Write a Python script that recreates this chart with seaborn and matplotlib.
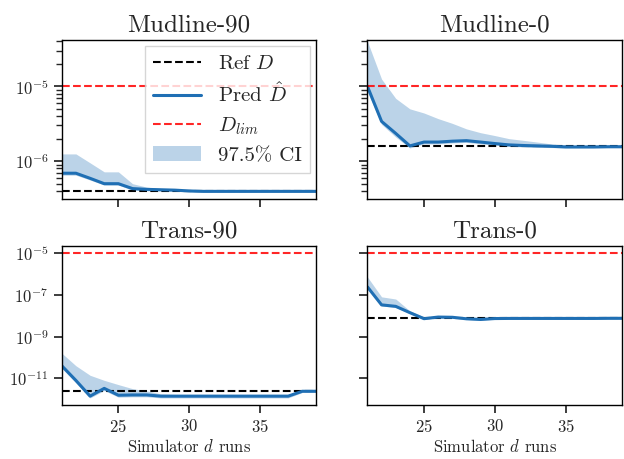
#!/usr/bin/env python3
"""Posterior estimates of D vs number of simulator runs, four test cases."""

import matplotlib.pyplot as plt
import numpy as np
import seaborn as sns

runs = np.arange(21, 40)
panel_names = ["Mudline-90", "Mudline-0", "Trans-90", "Trans-0"]

d_lim = 1e-5

# Mudline-90
mud90_ref = 4.0e-7
mud90_pred = [6.9e-7, 6.9e-7, 5.9e-7, 5.0e-7, 5.0e-7, 4.3e-7, 4.2e-7, 4.15e-7, 4.1e-7, 4.0e-7,
              3.95e-7, 3.95e-7, 3.95e-7, 3.95e-7, 3.95e-7, 3.95e-7, 3.95e-7, 3.95e-7, 3.95e-7]
mud90_hi = [1.25e-6, 1.25e-6, 9.5e-7, 7.2e-7, 7.2e-7, 5.0e-7, 4.5e-7, 4.3e-7, 4.2e-7, 4.1e-7,
            4.05e-7, 4.05e-7, 4.05e-7, 4.05e-7, 4.05e-7, 4.05e-7, 4.05e-7, 4.05e-7, 4.05e-7]
mud90_lo = [6.5e-7, 6.5e-7, 5.6e-7, 4.8e-7, 4.8e-7, 4.1e-7, 4.0e-7, 4.0e-7, 3.95e-7, 3.9e-7,
            3.85e-7, 3.85e-7, 3.85e-7, 3.85e-7, 3.85e-7, 3.85e-7, 3.85e-7, 3.85e-7, 3.85e-7]

# Mudline-0
mud0_ref = 1.6e-6
mud0_pred = [1.0e-5, 3.4e-6, 2.35e-6, 1.6e-6, 1.8e-6, 1.8e-6, 1.85e-6, 1.88e-6, 1.8e-6, 1.72e-6,
             1.65e-6, 1.62e-6, 1.6e-6, 1.58e-6, 1.55e-6, 1.55e-6, 1.55e-6, 1.56e-6, 1.56e-6]
mud0_hi = [4.0e-5, 1.25e-5, 6.9e-6, 5.0e-6, 4.4e-6, 3.7e-6, 3.2e-6, 2.7e-6, 2.4e-6, 2.2e-6,
           2.0e-6, 1.9e-6, 1.8e-6, 1.7e-6, 1.65e-6, 1.6e-6, 1.6e-6, 1.6e-6, 1.6e-6]
mud0_lo = [8.5e-6, 3.1e-6, 2.1e-6, 1.5e-6, 1.7e-6, 1.7e-6, 1.75e-6, 1.78e-6, 1.7e-6, 1.64e-6,
           1.58e-6, 1.55e-6, 1.53e-6, 1.52e-6, 1.5e-6, 1.5e-6, 1.5e-6, 1.51e-6, 1.51e-6]

# Trans-90
tr90_ref = 2.4e-12
tr90_pred = [4.0e-11, 7.9e-12, 1.4e-12, 3.3e-12, 1.55e-12, 1.6e-12, 1.6e-12, 1.4e-12, 1.4e-12, 1.4e-12,
             1.4e-12, 1.4e-12, 1.4e-12, 1.4e-12, 1.4e-12, 1.4e-12, 1.4e-12, 2.4e-12, 2.4e-12]
tr90_hi = [1.6e-10, 4.0e-11, 1.4e-11, 8.0e-12, 5.0e-12, 3.2e-12, 2.5e-12, 1.8e-12, 1.7e-12, 1.7e-12,
           1.7e-12, 1.7e-12, 1.7e-12, 1.7e-12, 1.7e-12, 1.7e-12, 1.7e-12, 2.8e-12, 2.8e-12]
tr90_lo = [3.0e-11, 6.0e-12, 1.15e-12, 2.6e-12, 1.25e-12, 1.3e-12, 1.3e-12, 1.15e-12, 1.15e-12, 1.15e-12,
           1.15e-12, 1.15e-12, 1.15e-12, 1.15e-12, 1.15e-12, 1.15e-12, 1.15e-12, 2.1e-12, 2.1e-12]

# Trans-0
tr0_ref = 7.5e-9
tr0_pred = [2.4e-7, 3.3e-8, 2.8e-8, 1.4e-8, 7.2e-9, 8.6e-9, 8.4e-9, 7.1e-9, 6.6e-9, 7.3e-9,
            7.4e-9, 7.4e-9, 7.4e-9, 7.4e-9, 7.4e-9, 7.4e-9, 7.4e-9, 7.5e-9, 7.5e-9]
tr0_hi = [7.2e-7, 8.0e-8, 6.3e-8, 1.7e-8, 8.9e-9, 9.5e-9, 9.2e-9, 7.8e-9, 7.2e-9, 7.9e-9,
          8.0e-9, 8.0e-9, 8.0e-9, 8.0e-9, 8.0e-9, 8.0e-9, 8.0e-9, 8.1e-9, 8.1e-9]
tr0_lo = [2.0e-7, 2.9e-8, 2.5e-8, 1.25e-8, 6.6e-9, 7.9e-9, 7.8e-9, 6.6e-9, 6.1e-9, 6.8e-9,
          6.9e-9, 6.9e-9, 6.9e-9, 6.9e-9, 6.9e-9, 6.9e-9, 6.9e-9, 7.0e-9, 7.0e-9]

refs = [mud90_ref, mud0_ref, tr90_ref, tr0_ref]
preds = [mud90_pred, mud0_pred, tr90_pred, tr0_pred]
his = [mud90_hi, mud0_hi, tr90_hi, tr0_hi]
los = [mud90_lo, mud0_lo, tr90_lo, tr0_lo]

top_yticks = [1e-6, 1e-5]
bottom_yticks = [1e-11, 1e-9, 1e-7, 1e-5]

BLUE = "#1f6fb4"


def main():
    sns.set_theme(style="ticks")
    plt.rcParams["font.family"] = ["cmr10", "DejaVu Serif"]
    plt.rcParams["mathtext.fontset"] = "cm"
    plt.rcParams["axes.formatter.use_mathtext"] = True
    plt.rcParams["axes.edgecolor"] = "black"
    plt.rcParams["axes.linewidth"] = 1.0

    fig, axes = plt.subplots(2, 2, figsize=(6.24, 4.59), dpi=100, sharex=True, sharey="row")
    fig.subplots_adjust(left=0.099, right=0.997, top=0.913, bottom=0.118, wspace=0.2, hspace=0.30)

    for ax, name, ref, pred, hi, lo in zip(axes.flat, panel_names, refs, preds, his, los):
        ax.set_yscale("log")
        ax.fill_between(runs, lo, hi, color=BLUE, alpha=0.3, lw=0, label="97.5% CI")
        sns.lineplot(x=runs, y=np.full(len(runs), ref), ax=ax, color="black", lw=1.5,
                     linestyle="--", label="Ref $D$", legend=False)
        sns.lineplot(x=runs, y=pred, ax=ax, color=BLUE, lw=2.2, label=r"Pred $\hat{D}$", legend=False)
        ax.axhline(d_lim, color="red", lw=1.5, linestyle="--", alpha=0.85, label="$D_{lim}$")
        ax.set_title(name, fontsize=18)
        ax.set_xlim(21, 39)
        ax.set_xticks([25, 30, 35])
        ax.tick_params(labelsize=12, direction="out")
        ax.set_xlabel("")
        ax.set_ylabel("")

    axes[0, 0].set_ylim(10 ** -6.5, 10 ** -4.38)
    axes[0, 0].set_yticks(top_yticks)
    axes[1, 0].set_ylim(10 ** -12.27, 10 ** -4.67)
    axes[1, 0].set_yticks(bottom_yticks)
    axes[0, 0].set_ylim(10 ** -6.5, 10 ** -4.38)
    axes[1, 0].set_ylim(10 ** -12.27, 10 ** -4.67)
    for ax in axes[1]:
        ax.set_xlabel("Simulator $d$ runs", fontsize=12, labelpad=2)

    handles, labels = axes[0, 0].get_legend_handles_labels()
    order = ["Ref $D$", r"Pred $\hat{D}$", "$D_{lim}$", "97.5% CI"]
    hmap = dict(zip(labels, handles))
    axes[0, 0].legend([hmap[k] for k in order], order, loc="upper right", fontsize=15,
                      handlelength=2.3, labelspacing=0.45, borderaxespad=0.3, fancybox=False)

    fig.savefig("out.png", dpi=100)
    plt.close(fig)


if __name__ == "__main__":
    main()
